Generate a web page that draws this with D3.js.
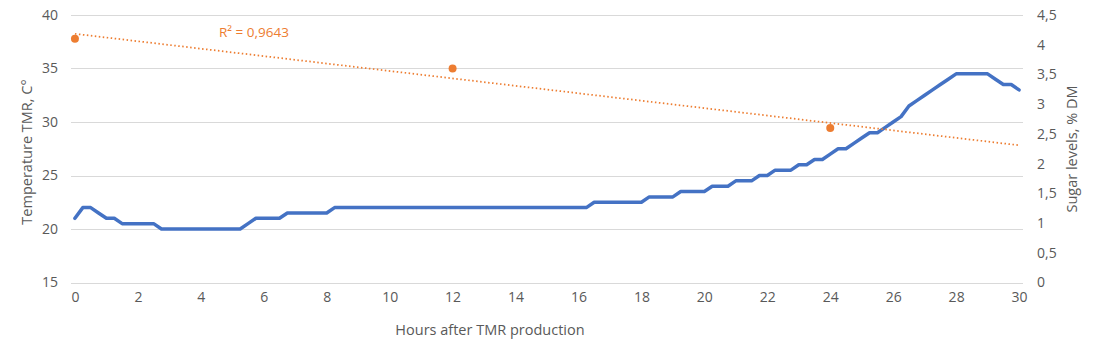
<!DOCTYPE html>
<html>
<head>
<meta charset="utf-8">
<script src="https://cdn.jsdelivr.net/npm/d3@7"></script>
<style>
  html, body { margin: 0; padding: 0; background: #fff; }
  svg { display: block; font-family: "Open Sans", sans-serif; }
</style>
</head>
<body>
<svg id="chart" width="1096" height="355"></svg>
<script>
// ---- data ----
const hours = [
  0,0.25,0.5,0.75,1,1.25,1.5,1.75,2,2.25,2.5,2.75,3,3.25,3.5,3.75,4,4.25,4.5,4.75,
  5,5.25,5.5,5.75,6,6.25,6.5,6.75,7,7.25,7.5,7.75,8,8.25,8.5,8.75,9,9.25,9.5,9.75,
  10,10.25,10.5,10.75,11,11.25,11.5,11.75,12,12.25,12.5,12.75,13,13.25,13.5,13.75,
  14,14.25,14.5,14.75,15,15.25,15.5,15.75,16,16.25,16.5,16.75,17,17.25,17.5,17.75,
  18,18.25,18.5,18.75,19,19.25,19.5,19.75,20,20.25,20.5,20.75,21,21.25,21.5,21.75,
  22,22.25,22.5,22.75,23,23.25,23.5,23.75,24,24.25,24.5,24.75,25,25.25,25.5,25.75,
  26,26.25,26.5,26.75,27,27.25,27.5,27.75,28,28.25,28.5,28.75,29,29.25,29.5,29.75,30
];
const temperature = [
  21,22,22,21.5,21,21,20.5,20.5,20.5,20.5,20.5,20,
  20,20,20,20,20,20,20,20,20,20,
  20.5,21,21,21,21,21.5,21.5,21.5,21.5,21.5,21.5,
  22,22,22,22,22,22,22,22,22,22,22,22,22,22,22,22,22,22,22,22,22,22,22,22,22,22,22,22,22,22,22,22,22,
  22.5,22.5,22.5,22.5,22.5,22.5,22.5,
  23,23,23,23,
  23.5,23.5,23.5,23.5,
  24,24,24,
  24.5,24.5,24.5,
  25,25,
  25.5,25.5,25.5,
  26,26,
  26.5,26.5,
  27,27.5,27.5,28,28.5,29,29,29.5,30,30.5,31.5,32,32.5,33,33.5,34,
  34.5,34.5,34.5,34.5,34.5,
  34,33.5,33.5,33
];
const sugarHours = [0, 12, 24];
const sugar = [4.1, 3.6, 2.6];
const xTickLabels = ["0","2","4","6","8","10","12","14","16","18","20","22","24","26","28","30"];
const leftTicks = [15, 20, 25, 30, 35, 40];
const rightTicks = [0, 0.5, 1, 1.5, 2, 2.5, 3, 3.5, 4, 4.5];

// ---- layout ----
const svg = d3.select("#chart");
const plotL = 71, plotR = 1023, plotT = 15, plotB = 282.5;
const textColor = "#595959";
const FONT = "'Open Sans', sans-serif";

const x = d3.scalePoint().domain(hours).range([plotL, plotR]).padding(0.5);
const xLin = d3.scaleLinear().domain([0, 30]).range([x(0), x(30)]);
const yL = d3.scaleLinear().domain([15, 40]).range([plotB, plotT]);
const yR = d3.scaleLinear().domain([0, 4.5]).range([plotB, plotT]);

const fmtComma = d => String(d).replace(".", ",");

// gridlines
svg.append("g").selectAll("line").data(leftTicks).join("line")
  .attr("x1", plotL).attr("x2", plotR)
  .attr("y1", d => Math.round(yL(d)) + 0.5).attr("y2", d => Math.round(yL(d)) + 0.5)
  .attr("stroke", "#d9d9d9").attr("stroke-width", 1);

// left axis labels
const gL = svg.append("g").attr("transform", `translate(${plotL - 13},0)`)
  .call(d3.axisLeft(yL).tickValues(leftTicks).tickSize(0).tickPadding(0));
gL.select(".domain").remove();
gL.selectAll("text").attr("fill", textColor).style("font-size", "14px").style("font-family", FONT);

// right axis labels
const gR = svg.append("g").attr("transform", `translate(${plotR + 14},0)`)
  .call(d3.axisRight(yR).tickValues(rightTicks).tickFormat(fmtComma).tickSize(0).tickPadding(0));
gR.select(".domain").remove();
gR.selectAll("text").attr("fill", textColor).style("font-size", "14px").style("font-family", FONT);

// bottom axis labels
const xTickVals = xTickLabels.map(Number);
const gB = svg.append("g").attr("transform", `translate(0,${plotB + 10})`)
  .call(d3.axisBottom(x).tickValues(xTickVals).tickFormat(d => xTickLabels[xTickVals.indexOf(d)]).tickSize(0).tickPadding(0));
gB.select(".domain").remove();
gB.selectAll("text").attr("fill", textColor).style("font-size", "14px").style("font-family", FONT);

// axis titles
svg.append("text").attr("x", 490).attr("y", 335).attr("text-anchor", "middle")
  .attr("fill", textColor).style("font-size", "14.5px").text("Hours after TMR production");
svg.append("text").attr("transform", "translate(32,152) rotate(-90)").attr("text-anchor", "middle")
  .attr("fill", textColor).style("font-size", "14.5px").text("Temperature TMR, C°");
svg.append("text").attr("transform", "translate(1077,149) rotate(-90)").attr("text-anchor", "middle")
  .attr("fill", textColor).style("font-size", "14.5px").text("Sugar levels, % DM");

// temperature line
const line = d3.line().x((d, i) => x(hours[i])).y(d => yL(d));
svg.append("path").datum(temperature).attr("d", line)
  .attr("fill", "none").attr("stroke", "#4472C4").attr("stroke-width", 3.5)
  .attr("stroke-linejoin", "round").attr("stroke-linecap", "round");

// linear trendline for sugar
const n = sugar.length;
const mx = d3.mean(sugarHours), my = d3.mean(sugar);
let sxy = 0, sxx = 0;
for (let i = 0; i < n; i++) { sxy += (sugarHours[i] - mx) * (sugar[i] - my); sxx += (sugarHours[i] - mx) ** 2; }
const slope = sxy / sxx, intercept = my - slope * mx;
svg.append("line")
  .attr("x1", xLin(0)).attr("y1", yR(intercept))
  .attr("x2", xLin(30)).attr("y2", yR(intercept + slope * 30))
  .attr("stroke", "#ED7D31").attr("stroke-width", 1.75).attr("stroke-dasharray", "1.5,2.5");

// sugar points
svg.append("g").selectAll("circle").data(sugar).join("circle")
  .attr("cx", (d, i) => x(sugarHours[i])).attr("cy", d => yR(d)).attr("r", 4)
  .attr("fill", "#ED7D31");

// R² label
svg.append("text").attr("x", 219).attr("y", 37).attr("fill", "#ED7D31")
  .style("font-size", "13.5px").text("R² = 0,9643");
</script>
</body>
</html>
